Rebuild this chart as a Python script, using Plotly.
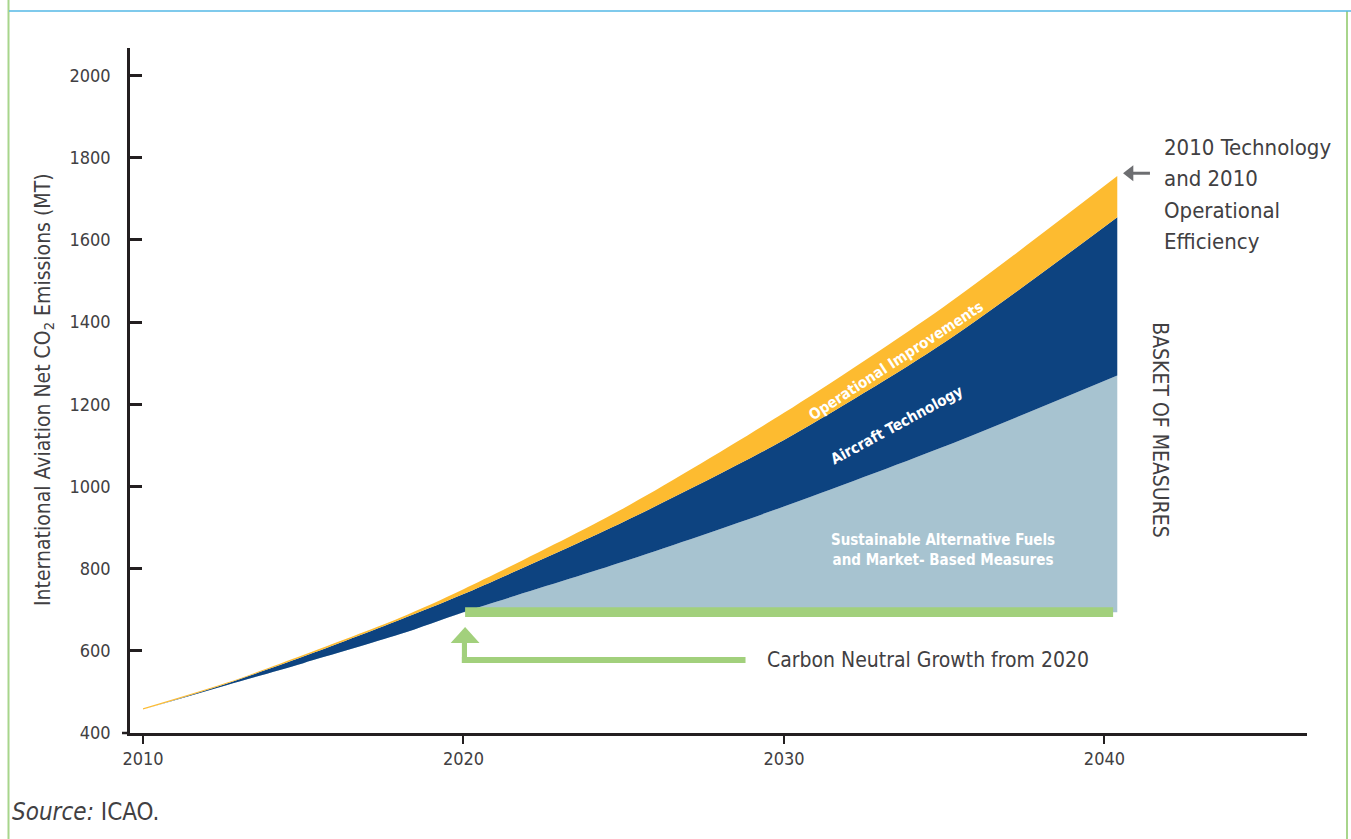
import plotly.graph_objects as go

# ---- data (Mt CO2) ----
years = [2010, 2012.6, 2015, 2018, 2020, 2025, 2030, 2035, 2040.4]
baseline_2010_tech = [460, 522, 590, 680, 750, 947, 1179, 1438, 1755]
after_operational = [457, 520, 586, 675, 738, 914, 1113, 1350, 1655]
after_aircraft_tech = [457, 516, 570, 640, 694, 817, 951, 1097, 1270]

cng_years = [2020, 2040.4]
cng_level = 694  # carbon neutral growth cap from 2020

x_ticks = [2010, 2020, 2030, 2040]
y_ticks = [400, 600, 800, 1000, 1200, 1400, 1600, 1800, 2000]

baseline_label = ["2010 Technology", "and 2010", "Operational", "Efficiency"]

# ---- styling ----
FONT = "DejaVu Sans Condensed, Liberation Sans Narrow, sans-serif"
TXT = "#414042"
AXIS = "#231F20"
YELLOW = "#FDBB30"
NAVY = "#0D4380"
LIGHTBLUE = "#A7C3D0"
GREEN = "#A2D07C"
ARROW_GREY = "#6D6E71"

W, H = 1351, 839
ML, MR, MT, MB = 130, 44, 48, 106
X_RANGE = [2009.594, 2046.32]
Y_RANGE = [400, 2066.7]
PW, PH = W - ML - MR, H - MT - MB
Y_PER_PX = (Y_RANGE[1] - Y_RANGE[0]) / PH


def px(xp):
    return (xp - ML) / PW


def py(yp):
    return (H - MB - yp) / PH


fig = go.Figure()

# light blue: fuels & market-based measures, down to the 2020 cap
fig.add_trace(go.Scatter(x=cng_years, y=[cng_level] * len(cng_years), mode="lines",
                         line=dict(width=0), hoverinfo="skip", showlegend=False))
fig.add_trace(go.Scatter(x=years, y=after_aircraft_tech, mode="lines", fill="tonexty",
                         fillcolor=LIGHTBLUE, line=dict(width=0, shape="spline", smoothing=0.8),
                         hoverinfo="skip", showlegend=False))
# navy: aircraft technology
fig.add_trace(go.Scatter(x=years, y=after_operational, mode="lines", fill="tonexty",
                         fillcolor=NAVY, line=dict(width=0, shape="spline", smoothing=0.8),
                         hoverinfo="skip", showlegend=False))
# yellow: operational improvements
fig.add_trace(go.Scatter(x=years, y=baseline_2010_tech, mode="lines", fill="tonexty",
                         fillcolor=YELLOW, line=dict(width=0, shape="spline", smoothing=0.8),
                         hoverinfo="skip", showlegend=False))

shapes = []
# carbon neutral growth bar
shapes.append(dict(type="rect", xref="x", yref="y", x0=2020.05, x1=2040.27,
                   y0=cng_level - 12, y1=cng_level + 12, fillcolor=GREEN, line=dict(width=0)))
# green L-shaped arrow pointing up to 2020
shapes.append(dict(type="rect", xref="x", yref="y", x0=2019.95, x1=2028.8,
                   y0=570.3, y1=584.9, fillcolor=GREEN, line=dict(width=0)))
shapes.append(dict(type="rect", xref="x", yref="y", x0=2019.95, x1=2020.11,
                   y0=570.3, y1=620, fillcolor=GREEN, line=dict(width=0)))
shapes.append(dict(type="path", xref="x", yref="y",
                   path="M 2019.6 619 L 2020.5 619 L 2020.05 658 Z",
                   fillcolor=GREEN, line=dict(width=0)))
# grey arrow pointing at the end of the 2010-technology curve
tip_x, tip_y = 2040.58, baseline_2010_tech[-1] + 7
shapes.append(dict(type="line", xref="x", yref="y", x0=2040.85, x1=2041.42,
                   y0=tip_y, y1=tip_y, line=dict(color=ARROW_GREY, width=3)))
shapes.append(dict(type="path", xref="x", yref="y",
                   path=f"M {tip_x} {tip_y} L 2040.9 {tip_y + 8 * Y_PER_PX} "
                        f"L 2040.9 {tip_y - 8 * Y_PER_PX} Z",
                   fillcolor=ARROW_GREY, line=dict(width=0)))
# x axis line extending a little left of the y axis
shapes.append(dict(type="line", xref="paper", yref="paper", x0=px(122), x1=0, y0=0, y1=0,
                   line=dict(color=AXIS, width=2.5)))
# page frame
shapes.append(dict(type="line", xref="paper", yref="paper", x0=px(8.5), x1=px(8.5),
                   y0=py(839), y1=py(0), line=dict(color="#A8D58C", width=2)))
shapes.append(dict(type="line", xref="paper", yref="paper", x0=px(1347), x1=px(1347),
                   y0=py(839), y1=py(11), line=dict(color="#A8D58C", width=2)))
shapes.append(dict(type="line", xref="paper", yref="paper", x0=px(9), x1=px(1351),
                   y0=py(11), y1=py(11), line=dict(color="#55B9E6", width=1.5)))

annotations = [
    dict(x=2033.49, y=1305, xref="x", yref="y", text="Operational Improvements",
         textangle=-33, showarrow=False,
         font=dict(family=FONT, size=15, color="white", weight="bold")),
    dict(x=2033.53, y=1149, xref="x", yref="y", text="Aircraft Technology",
         textangle=-28.5, showarrow=False,
         font=dict(family=FONT, size=15, color="white", weight="bold")),
    dict(x=2034.96, y=845, xref="x", yref="y",
         text="Sustainable Alternative Fuels<br>and Market- Based Measures",
         showarrow=False, align="center",
         font=dict(family=FONT, size=15, color="white", weight="bold")),
    dict(x=2029.41, y=577.6, xref="x", yref="y", text="Carbon Neutral Growth from 2020",
         xanchor="left", yanchor="middle", showarrow=False,
         font=dict(family=FONT, size=21, color=TXT)),
    dict(x=2041.73, y=1137, xref="x", yref="y", text="BASKET OF MEASURES",
         textangle=90, showarrow=False,
         font=dict(family=FONT, size=21, color=TXT)),
    dict(x=px(44), y=py(390), xref="paper", yref="paper", xanchor="center", yanchor="middle",
         text="International Aviation Net CO<sub>2</sub> Emissions (MT)",
         textangle=-90, showarrow=False,
         font=dict(family=FONT, size=21, color=TXT)),
    dict(x=px(10), y=py(812), xref="paper", yref="paper",
         text="<i>Source:</i> ICAO.", xanchor="left", yanchor="middle", showarrow=False,
         font=dict(family=FONT, size=24, color=TXT)),
]

# baseline label, one line per annotation for looser leading
for i, line in enumerate(baseline_label):
    annotations.append(dict(x=px(1162), y=py(147 + 31.6 * i), xref="paper", yref="paper",
                            text=line, xanchor="left", yanchor="middle", showarrow=False,
                            font=dict(family=FONT, size=22, color=TXT)))

fig.update_layout(
    width=W, height=H,
    margin=dict(l=ML, r=MR, t=MT, b=MB),
    paper_bgcolor="white", plot_bgcolor="white",
    shapes=shapes, annotations=annotations,
    font=dict(family=FONT, color=TXT),
    xaxis=dict(range=X_RANGE, tickvals=x_ticks, ticktext=[str(v) for v in x_ticks],
               showgrid=False, zeroline=False, showline=True, linecolor=AXIS, linewidth=2.5,
               ticks="outside", ticklen=8, tickwidth=2, tickcolor=AXIS,
               tickfont=dict(family=FONT, size=18, color=TXT)),
    yaxis=dict(range=Y_RANGE, tickvals=y_ticks, ticktext=[str(v) for v in y_ticks],
               showgrid=False, zeroline=False, showline=True, linecolor=AXIS, linewidth=2.5,
               ticks="inside", ticklen=12, tickwidth=2.5, tickcolor=AXIS,
               ticklabelstandoff=13,
               tickfont=dict(family=FONT, size=18, color=TXT)),
)

fig.write_html("out.html")
